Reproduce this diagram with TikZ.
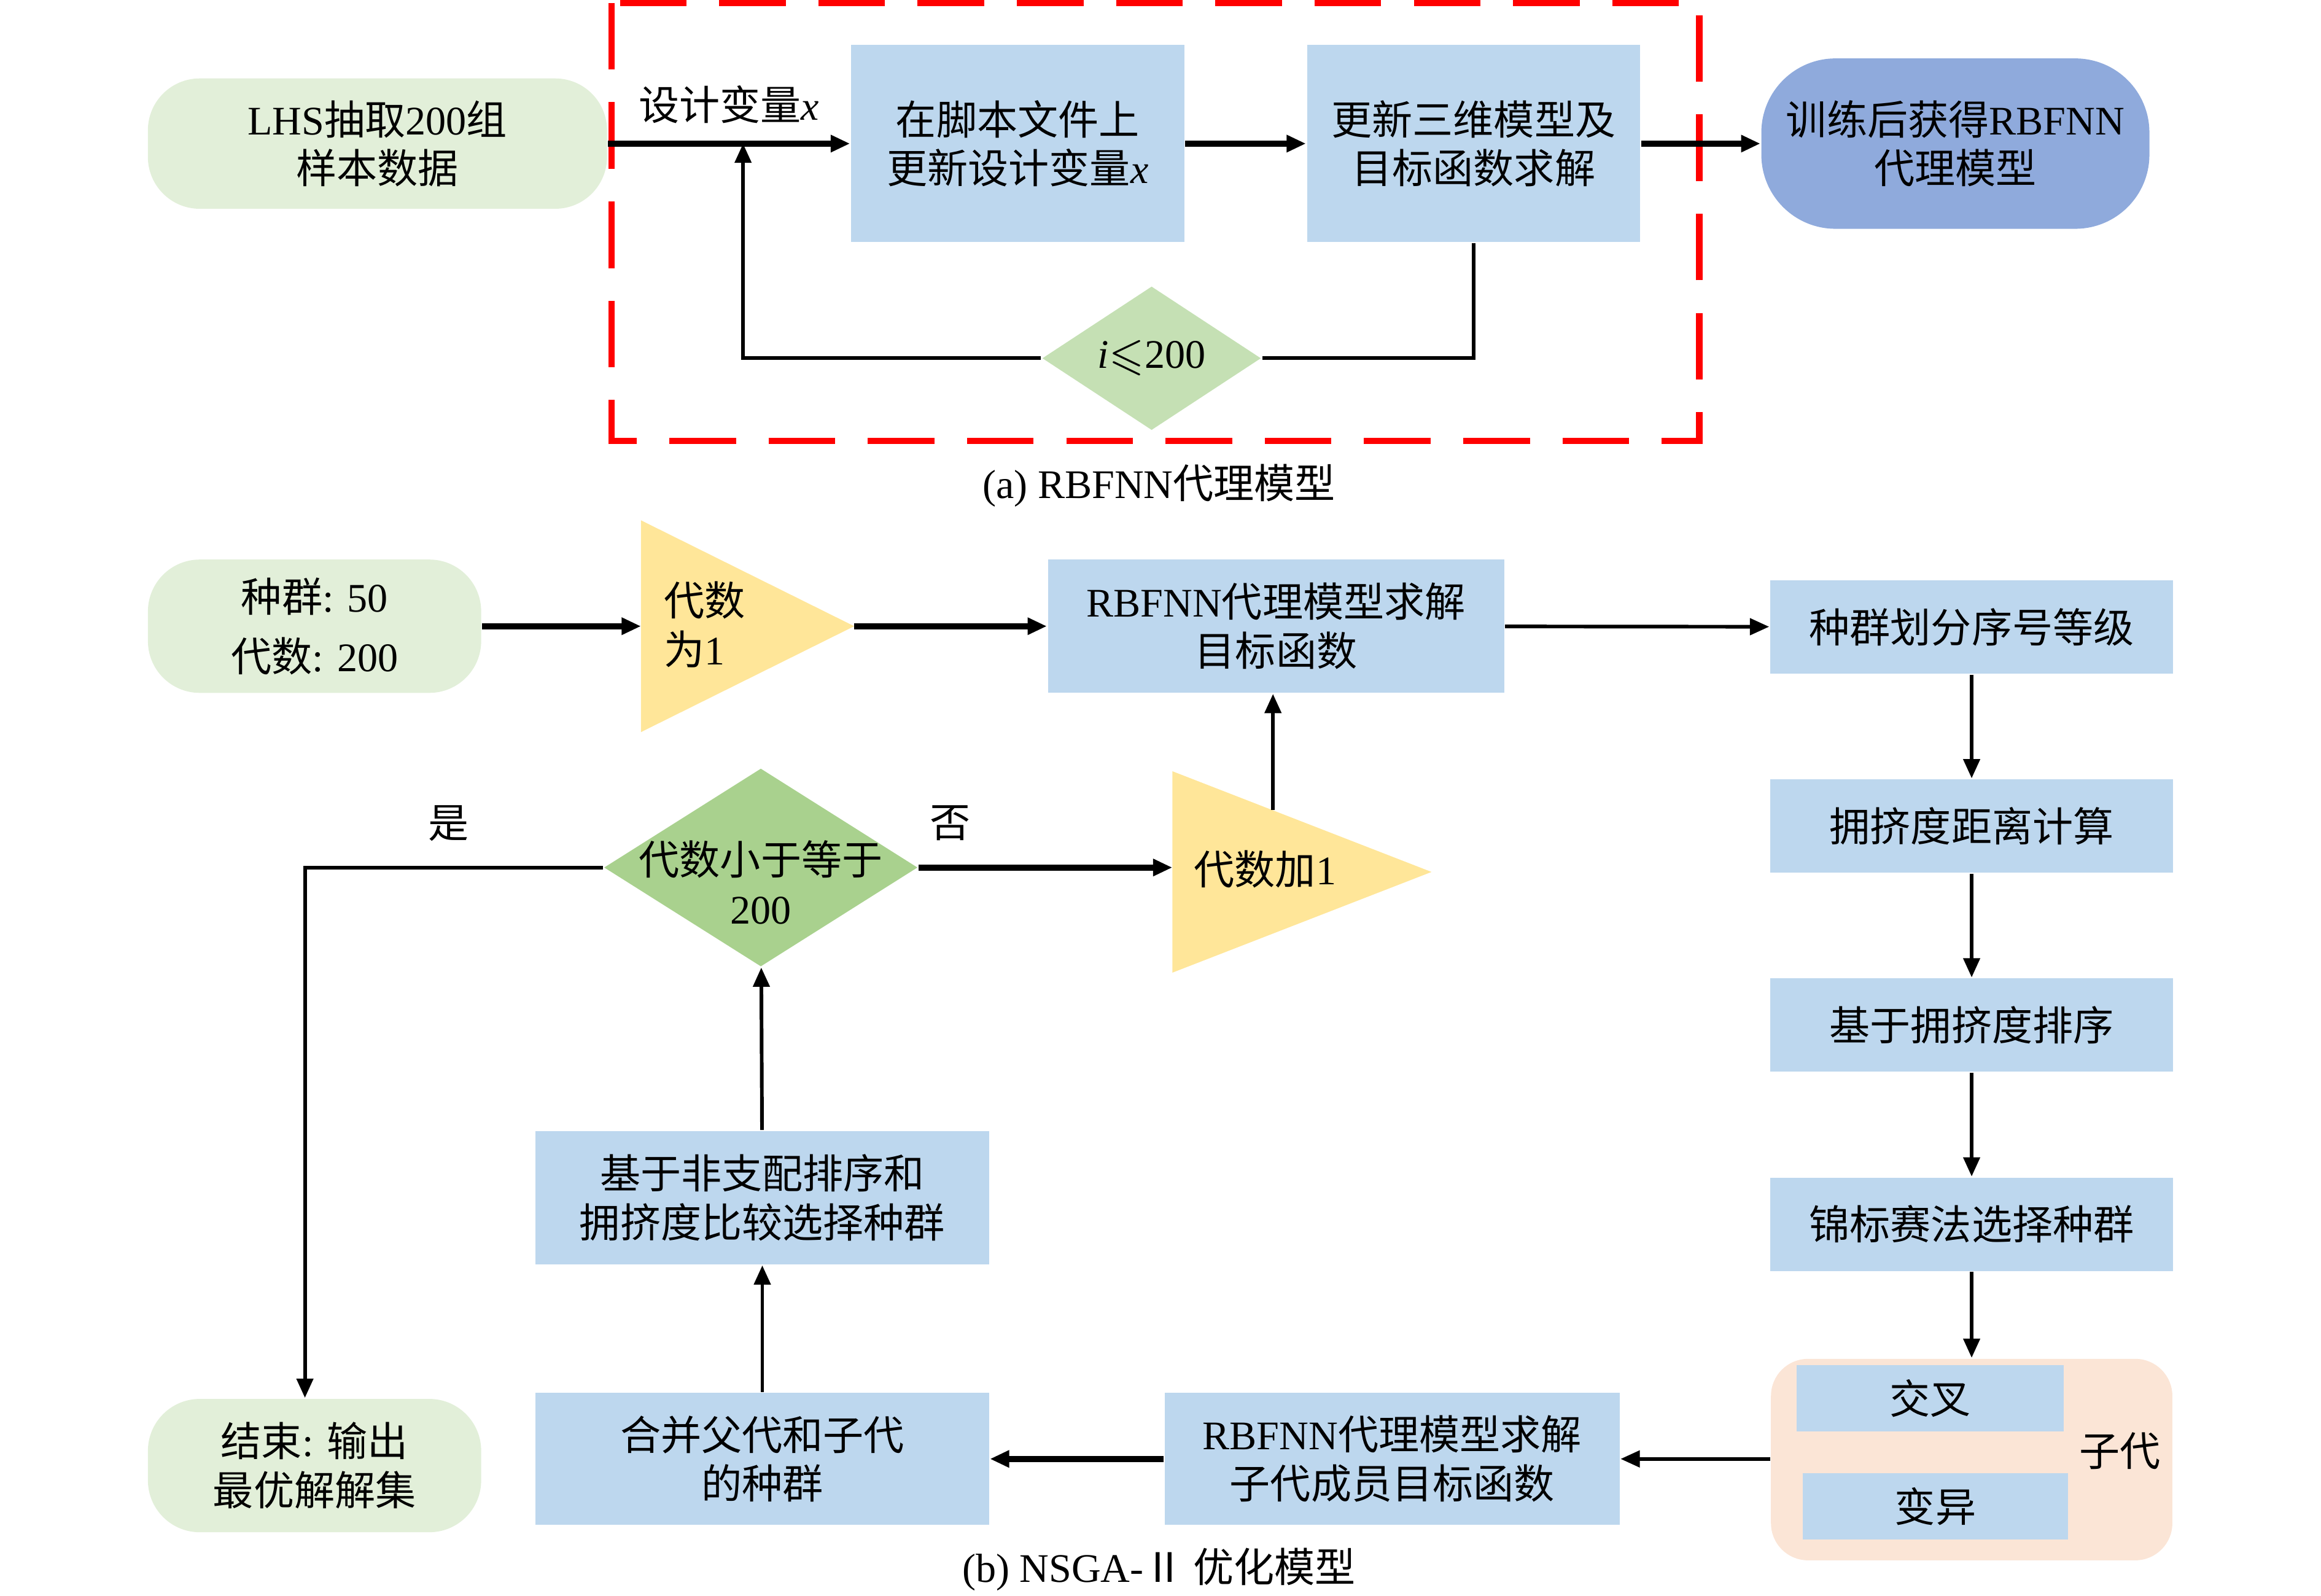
\documentclass[tikz,border=0pt]{standalone}
\usepackage{amssymb}
\usepackage{fontspec}
\setmainfont{Liberation Serif}
\newfontfamily\cjk{Noto Sans CJK SC}
\newcommand{\zh}[1]{{\cjk #1}}
\usetikzlibrary{arrows.meta,shapes.geometric,positioning}
\definecolor{vertclair}{HTML}{E2EFD9}
\definecolor{bleuboite}{HTML}{BDD7EE}
\definecolor{bleufonce}{HTML}{8FAADC}
\definecolor{vertlos}{HTML}{C5E0B4}
\definecolor{vertfonce}{HTML}{A9D18E}
\definecolor{jauneclair}{HTML}{FFE699}
\definecolor{peche}{HTML}{FBE5D6}
\definecolor{rouge}{HTML}{FF0000}

\begin{document}
\begin{tikzpicture}[x=0.01cm, y=-0.01cm, font=\fontsize{7.8}{9.4}\selectfont,
    boite/.style={fill=bleuboite, inner sep=0pt, align=center},
    terminal/.style={fill=vertclair, rounded corners=0.35cm, inner sep=0pt, minimum width=2.25cm, minimum height=0.9cm, align=center},
    losange/.style={diamond, inner sep=0pt},
    jaune/.style={isosceles triangle, isosceles triangle stretches, fill=jauneclair, inner sep=0pt, outer sep=0pt, anchor=west},
    fleche/.style={-{Triangle[length=1.3mm, width=1.1mm]}, line width=0.7pt},
    trait/.style={line width=0.7pt},
    epais/.style={line width=1.2pt}]
    \useasboundingbox (0,0) rectangle (1568,1078);

    % Partie (a)
    \draw[rouge, line width=1.2pt, dash pattern=on 0.45cm off 0.22cm] (413,2) rectangle (1148,298);
    \node[terminal, minimum width=3.1cm, minimum height=0.88cm] (lhs) at (255,97) {LHS\zh{抽取}200\zh{组}\\\zh{样本数据}};
    \node[boite, minimum width=2.25cm, minimum height=1.33cm] (script) at (687.5,97) {\zh{在脚本文件上}\\\zh{更新设计变量}\textit{x}};
    \node[boite, minimum width=2.25cm, minimum height=1.33cm] (maj) at (995.5,97) {\zh{更新三维模型及}\\\zh{目标函数求解}};
    \node[terminal, fill=bleufonce, rounded corners=0.5cm, minimum width=2.62cm, minimum height=1.15cm] (rbfa) at (1321,97) {\zh{训练后获得}RBFNN\\\zh{代理模型}};
    \node[losange, fill=vertlos, minimum width=1.48cm, minimum height=0.9cm] (cond) at (778,242) {\textit{i}$\leqslant$200};
    \node (capa) at (783,328) {(a) RBFNN\zh{代理模型}};
    \coordinate (retour) at (502,97);

    \draw[fleche, epais] (lhs) -- node[above=0pt] (var) {\zh{设计变量}\textit{x}} (script);
    \draw[fleche, epais] (script) -- (maj);
    \draw[fleche, epais] (maj) -- (rbfa);
    \draw[trait] (maj.south) |- (cond.east);
    \draw[fleche] (cond.west) -| (retour);

    % Partie (b)
    \node[terminal] (pop) at (212.5,423) {\zh{种群}: 50\\[2pt]\zh{代数}: 200};
    \node[jaune, minimum width=1.43cm, minimum height=1.44cm] (g1) at (433,423) {};
    \node[right, align=left, inner sep=0pt] (tg1) at (448,422) {\zh{代数}\\\zh{为}1};
    \node[boite, minimum width=3.08cm, minimum height=0.9cm] (rbf1) at (862,423) {RBFNN\zh{代理模型求解}\\\zh{目标函数}};
    \node[boite, minimum width=2.72cm, minimum height=0.63cm] (rang) at (1332,423.5) {\zh{种群划分序号等级}};
    \node[boite, minimum width=2.72cm, minimum height=0.63cm, below=0.7cm of rang] (dist) {\zh{拥挤度距离计算}};
    \node[boite, minimum width=2.72cm, minimum height=0.63cm, below=0.7cm of dist] (tri) {\zh{基于拥挤度排序}};
    \node[boite, minimum width=2.72cm, minimum height=0.63cm, below=0.7cm of tri] (tournoi) {\zh{锦标赛法选择种群}};
    \node[fill=peche, rounded corners=0.25cm, minimum width=2.71cm, minimum height=1.36cm, below=0.58cm of tournoi] (enfants) {};
    \node[boite, minimum width=1.8cm, minimum height=0.45cm] (croise) at (1304,944.5) {\zh{交叉}};
    \node[boite, minimum width=1.79cm, minimum height=0.45cm] (mut) at (1307.5,1017.5) {\zh{变异}};
    \node (enf) at (1432,980) {\zh{子代}};
    \node[boite, minimum width=3.07cm, minimum height=0.89cm] (rbf2) at (940.5,985.5) {RBFNN\zh{代理模型求解}\\\zh{子代成员目标函数}};
    \node[boite, minimum width=3.06cm, minimum height=0.89cm] (fusion) at (515,985.5) {\zh{合并父代和子代}\\\zh{的种群}};
    \node[boite, minimum width=3.06cm, minimum height=0.9cm] (select) at (515,809) {\zh{基于非支配排序和}\\\zh{拥挤度比较选择种群}};
    \node[losange, fill=vertfonce, minimum width=2.12cm, minimum height=1.34cm] (test) at (514,586) {};
    \node[align=center] (ttest) at (514,596) {\zh{代数小于等于}\\200};
    \node[jaune, minimum width=1.36cm, minimum height=1.75cm] (g2) at (792,589) {};
    \node[right, inner sep=0pt] (tg2) at (806,587) {\zh{代数加}1};
    \node[terminal] (fin) at (212.5,990) {\zh{结束}: \zh{输出}\\\zh{最优解解集}};
    \node (oui) at (303,556) {\zh{是}};
    \node (non) at (642,556) {\zh{否}};
    \node (capb) at (783,1060) {(b) NSGA-\zh{Ⅱ 优化模型}};
    \coordinate (g2haut) at (860,547);

    % Fleches
    \draw[fleche, epais] (pop) -- (g1);
    \draw[fleche, epais] (g1.east) -- (g1.east -| rbf1.west);
    \draw[fleche] (rbf1) -- (rang);
    \draw[fleche] (rang) -- (dist);
    \draw[fleche] (dist) -- (tri);
    \draw[fleche] (tri) -- (tournoi);
    \draw[fleche] (tournoi) -- (enfants);
    \draw[fleche] (enfants.west |- rbf2) -- (rbf2);
    \draw[fleche, epais] (rbf2) -- (fusion);
    \draw[fleche] (fusion) -- (select);
    \draw[fleche] (select) -- (test);
    \draw[fleche, epais] (test.east) -- (test.east -| g2.west);
    \draw[fleche] (test.west) -| ([xshift=-0.065cm]fin.north);
    \draw[fleche] (g2haut) -- (g2haut |- rbf1.south);
\end{tikzpicture}
\end{document}
